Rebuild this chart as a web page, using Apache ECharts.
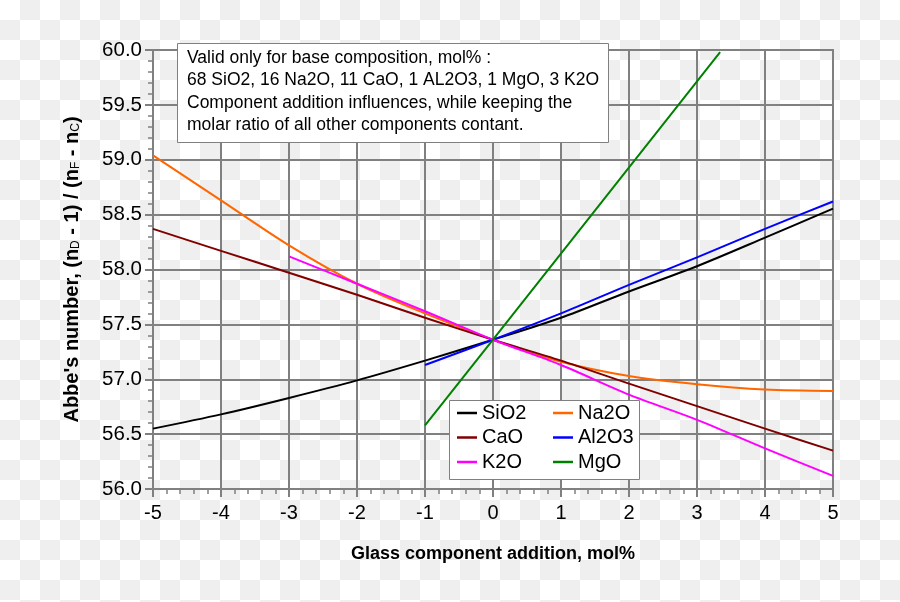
<!DOCTYPE html>
<html>
<head>
<meta charset="utf-8">
<script src="https://cdn.jsdelivr.net/npm/echarts@6/dist/echarts.min.js"></script>
<style>
html, body { margin: 0; padding: 0; }
body {
  width: 900px; height: 602px;
  background-color: #ffffff;
  background-image: conic-gradient(#efefef 25%, transparent 0 50%, #efefef 0 75%, transparent 0);
  background-size: 40px 40px;
}
#chart { width: 900px; height: 602px; }
</style>
</head>
<body>
<div id="chart"></div>
<script>
// x positions (mol% added)
const xFull = [-5, -4, -3, -2, -1, 0, 1, 2, 3, 4, 5];
const xFromMinus3 = [-3, -2, -1, 0, 1, 2, 3, 4, 5];
const xFromMinus1 = [-1, 0, 1, 2, 3, 4, 5];
const xMgO = [-1, 0, 3.34];

// Abbe numbers
const sio2 = [56.55, 56.68, 56.83, 56.99, 57.17, 57.36, 57.56, 57.80, 58.03, 58.29, 58.555];
const na2o = [59.04, 58.63, 58.22, 57.87, 57.60, 57.36, 57.16, 57.03, 56.955, 56.907, 56.894];
const cao = [58.37, 58.17, 57.97, 57.77, 57.56, 57.36, 57.17, 56.96, 56.755, 56.55, 56.35];
const k2o = [58.12, 57.87, 57.62, 57.36, 57.13, 56.86, 56.63, 56.37, 56.12];
const al2o3 = [57.13, 57.36, 57.60, 57.86, 58.11, 58.37, 58.62];
const mgo = [56.58, 57.36, 59.98];

const noteLines = [
  'Valid only for base composition, mol% :',
  '68 SiO2, 16 Na2O, 11 CaO, 1 AL2O3, 1 MgO, 3 K2O',
  'Component addition influences, while keeping the',
  'molar ratio of all other components contant.'
];

const pairs = (xs, ys) => xs.map((x, i) => [x, ys[i]]);
const gridGray = '#808080';
const font = 'Liberation Sans, Arial, sans-serif';

function makeLine(name, xs, ys, color, smooth) {
  return {
    name: name,
    type: 'line',
    data: pairs(xs, ys),
    showSymbol: false,
    smooth: smooth,
    lineStyle: { color: color, width: 2 },
    itemStyle: { color: color },
    z: 3
  };
}

var chart = echarts.init(document.getElementById('chart'), null, { renderer: 'canvas' });

var legendCommon = {
  orient: 'vertical',
  icon: 'rect',
  itemWidth: 20,
  itemHeight: 2.5,
  itemGap: 0.5,
  padding: 0,
  textStyle: { fontSize: 20, fontFamily: font, color: '#000', lineHeight: 24 },
  z: 30
};

var option = {
  animation: false,
  backgroundColor: 'transparent',
  grid: {
    left: 153, right: 67, top: 50, bottom: 113,
    show: true, borderColor: gridGray, borderWidth: 2, backgroundColor: 'transparent'
  },
  xAxis: {
    type: 'value',
    min: -5, max: 5, interval: 1,
    name: 'Glass component addition, mol%',
    nameLocation: 'middle',
    nameGap: 56,
    nameTextStyle: { fontSize: 18, fontWeight: 'bold', fontFamily: font, color: '#000' },
    axisLine: { show: true, onZero: false, lineStyle: { color: gridGray, width: 2 } },
    axisTick: { show: true, length: 8, lineStyle: { color: gridGray, width: 2 } },
    minorTick: { show: true, splitNumber: 5, length: 5, lineStyle: { color: gridGray, width: 1.5 } },
    axisLabel: { fontSize: 20, fontFamily: font, color: '#000', margin: 14 },
    splitLine: { show: true, lineStyle: { color: gridGray, width: 2 } }
  },
  yAxis: {
    type: 'value',
    min: 56, max: 60, interval: 0.5,
    name: "Abbe's number, (n{sub|D} - 1) / (n{sub|F} - n{sub|C})",
    nameLocation: 'middle',
    nameRotate: 90,
    nameGap: 71,
    nameTextStyle: {
      fontSize: 20, fontWeight: 'bold', fontFamily: font, color: '#000',
      rich: {
        sub: { fontSize: 12, fontWeight: 'normal', fontFamily: font, color: '#000', verticalAlign: 'bottom', padding: [6, 0, 0, 0] }
      }
    },
    axisLine: { show: true, onZero: false, lineStyle: { color: gridGray, width: 2 } },
    axisTick: { show: true, length: 8, lineStyle: { color: gridGray, width: 2 } },
    minorTick: { show: true, splitNumber: 5, length: 5, lineStyle: { color: gridGray, width: 1.5 } },
    axisLabel: {
      fontSize: 20.5, fontFamily: font, color: '#000', margin: 11,
      formatter: (v) => v.toFixed(1)
    },
    splitLine: { show: true, lineStyle: { color: gridGray, width: 2 } }
  },
  legend: [
    Object.assign({ left: 457, top: 401, data: ['SiO2', 'CaO', 'K2O'] }, legendCommon),
    Object.assign({ left: 553, top: 401, data: ['Na2O', 'Al2O3', 'MgO'] }, legendCommon)
  ],
  graphic: [
    {
      type: 'rect', left: 449, top: 400, z: 25,
      shape: { width: 190, height: 79 },
      style: { fill: '#fff', stroke: gridGray, lineWidth: 1 }
    },
    {
      type: 'rect', left: 177, top: 43, z: 25,
      shape: { width: 431, height: 99 },
      style: { fill: '#fff', stroke: gridGray, lineWidth: 1 }
    },
    {
      type: 'text', left: 187, top: 47, z: 26,
      style: {
        text: noteLines.join('\n'),
        fontSize: 17.5, fontFamily: font, fill: '#000', lineHeight: 22.3
      }
    }
  ],
  series: [
    makeLine('SiO2', xFull, sio2, '#000000', 0.3),
    makeLine('Na2O', xFull, na2o, '#ff6600', 0.3),
    makeLine('CaO', xFull, cao, '#800000', 0.3),
    makeLine('Al2O3', xFromMinus1, al2o3, '#0000ff', 0.3),
    makeLine('K2O', xFromMinus3, k2o, '#ff00ff', 0.3),
    makeLine('MgO', xMgO, mgo, '#008000', false)
  ]
};

chart.setOption(option);
</script>
</body>
</html>
